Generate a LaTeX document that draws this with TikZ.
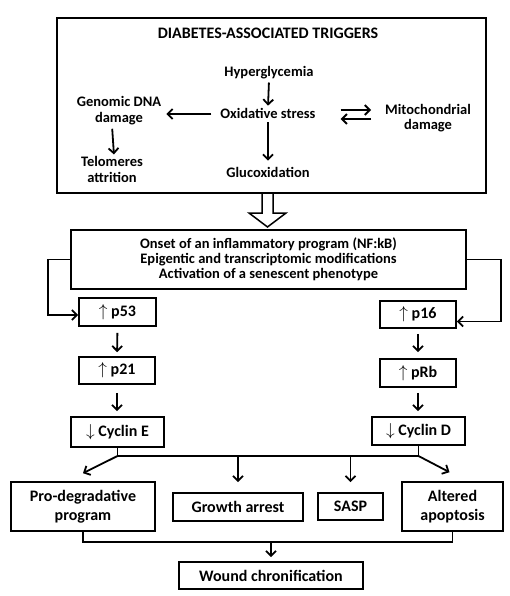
\documentclass[tikz,border=0pt]{standalone}
\usepackage{fontspec}
\setmainfont{Carlito}
\usetikzlibrary{arrows.meta}
\begin{document}
\begin{tikzpicture}[x=1pt,y=-1pt,
  txt/.style={font=\fontsize{14.5}{15.5}\selectfont\bfseries, inner sep=1pt, align=center},
  bx/.style={draw, line width=1.6pt, font=\fontsize{16}{18.5}\selectfont\bfseries, align=center, inner sep=0pt},
  arr/.style={line width=1.8pt, -{Straight Barb[length=5pt,width=10pt]}},
  ln/.style={line width=1.6pt}]
\useasboundingbox (0,0) rectangle (510,596);

% top box
\node[draw, line width=1.6pt, minimum width=429pt, minimum height=175pt, inner sep=0pt] (top) at (271.5,105.5) {};
\node[txt, font=\fontsize{16}{17}\selectfont\bfseries] (title) at (268,33) {DIABETES-ASSOCIATED TRIGGERS};
\node[txt] (hyp) at (269,73) {Hyperglycemia};
\node[txt] (ox) at (268,113) {Oxidative stress};
\node[txt] (gen) at (119,110.5) {Genomic DNA\\damage};
\node[txt] (tel) at (112,169.5) {Telomeres\\attrition};
\node[txt] (gluc) at (268,172) {Glucoxidation};
\node[txt] (mito) at (428,118) {Mitochondrial\\damage};

\draw[arr, shorten <=2pt, shorten >=1pt] (hyp.south) -- (ox.north);
\draw[arr, shorten <=3pt, shorten >=5pt] (ox.south) -- (gluc.north);
\draw[arr, shorten <=8pt, shorten >=4pt] ([yshift=-1pt]ox.west) -- ([yshift=-1pt]ox.west -| gen.east);
\draw[arr, shorten <=3pt, shorten >=1pt] (tel.north |- gen.south) -- ([xshift=2pt]tel.north);
\draw[arr, shorten <=24pt, shorten >=13pt] ([yshift=3pt]ox.east) -- ([yshift=3pt]ox.east -| mito.west);
\draw[arr, shorten <=13pt, shorten >=24pt] ([yshift=-6pt]ox.east -| mito.west) -- ([yshift=-6pt]ox.east);

% hollow arrow
\draw[line width=1.5pt, fill=white] (262,194) -- (262,213) -- (249,213) -- (267.5,227) -- (286,213) -- (273,213) -- (273,194);

% inflammatory box
\node[bx, font=\fontsize{14.5}{15}\selectfont\bfseries, minimum width=395pt, minimum height=59pt] (infl) at (268.5,259.5)
  {Onset of an inflammatory program (NF:kB)\\Epigentic and transcriptomic modifications\\Activation of a senescent phenotype};

% p-boxes
\node[bx, minimum width=77pt, minimum height=28pt] (p53) at (117.5,312) {$\uparrow$ p53};
\node[bx, minimum width=76pt, minimum height=27pt] (p21) at (117,370.5) {$\uparrow$ p21};
\node[bx, minimum width=93pt, minimum height=30pt] (cycE) at (117.5,432) {$\downarrow$ Cyclin E};
\node[bx, minimum width=76pt, minimum height=27pt] (p16) at (418,314.5) {$\uparrow$ p16};
\node[bx, minimum width=76pt, minimum height=28pt] (pRb) at (418,373) {$\uparrow$ pRb};
\node[bx, minimum width=93pt, minimum height=28pt] (cycD) at (418.5,431) {$\downarrow$ Cyclin D};

\draw[arr] (infl.west) -- ++(-22,0) |- ([yshift=-3pt]p53.west);
\draw[arr] (infl.east) -- ++(34,0) |- ([yshift=-7pt]p16.east);
\draw[arr, shorten <=6pt, shorten >=4pt] (p53.south) -- (p21.north);
\draw[arr, shorten <=8pt, shorten >=5pt] (p21.south) -- (p21.south |- cycE.north);
\draw[arr, shorten <=5pt, shorten >=6pt] (p16.south -| pRb.north) -- (pRb.north);
\draw[arr, shorten <=5pt, shorten >=5pt] (pRb.south) -- (pRb.south |- cycD.north);

% outcome boxes
\node[bx, minimum width=144pt, minimum height=49pt] (pro) at (83,506.5) {Pro-degradative\\program};
\node[bx, minimum width=130pt, minimum height=28pt] (grow) at (238,507) {Growth arrest};
\node[bx, minimum width=65pt, minimum height=27pt] (sasp) at (350.5,506.5) {SASP};
\node[bx, minimum width=101pt, minimum height=49pt] (alt) at (452.5,506.5) {Altered\\apoptosis};
\node[bx, minimum width=184pt, minimum height=27pt] (wound) at (271,575.5) {Wound chronification};

\coordinate (jl) at (117.5,456);
\coordinate (jr) at (418.5,456);
\draw[ln] (cycE.south) -- (jl) -- (jr) -- (cycD.south);
\draw[arr] (jl) -- ([yshift=8pt]pro.north);
\draw[arr] (grow.north |- jl) -- ([yshift=10pt]grow.north);
\draw[arr] (sasp.north |- jl) -- ([yshift=10pt]sasp.north);
\draw[arr] (jr) -- ([xshift=-3pt,yshift=9pt]alt.north);

\coordinate (jb) at (271,542);
\draw[ln] (pro.south) |- (jb) -| (alt.south);
\draw[arr] (wound.north |- jb) -- ([yshift=4pt]wound.north);
\end{tikzpicture}
\end{document}
